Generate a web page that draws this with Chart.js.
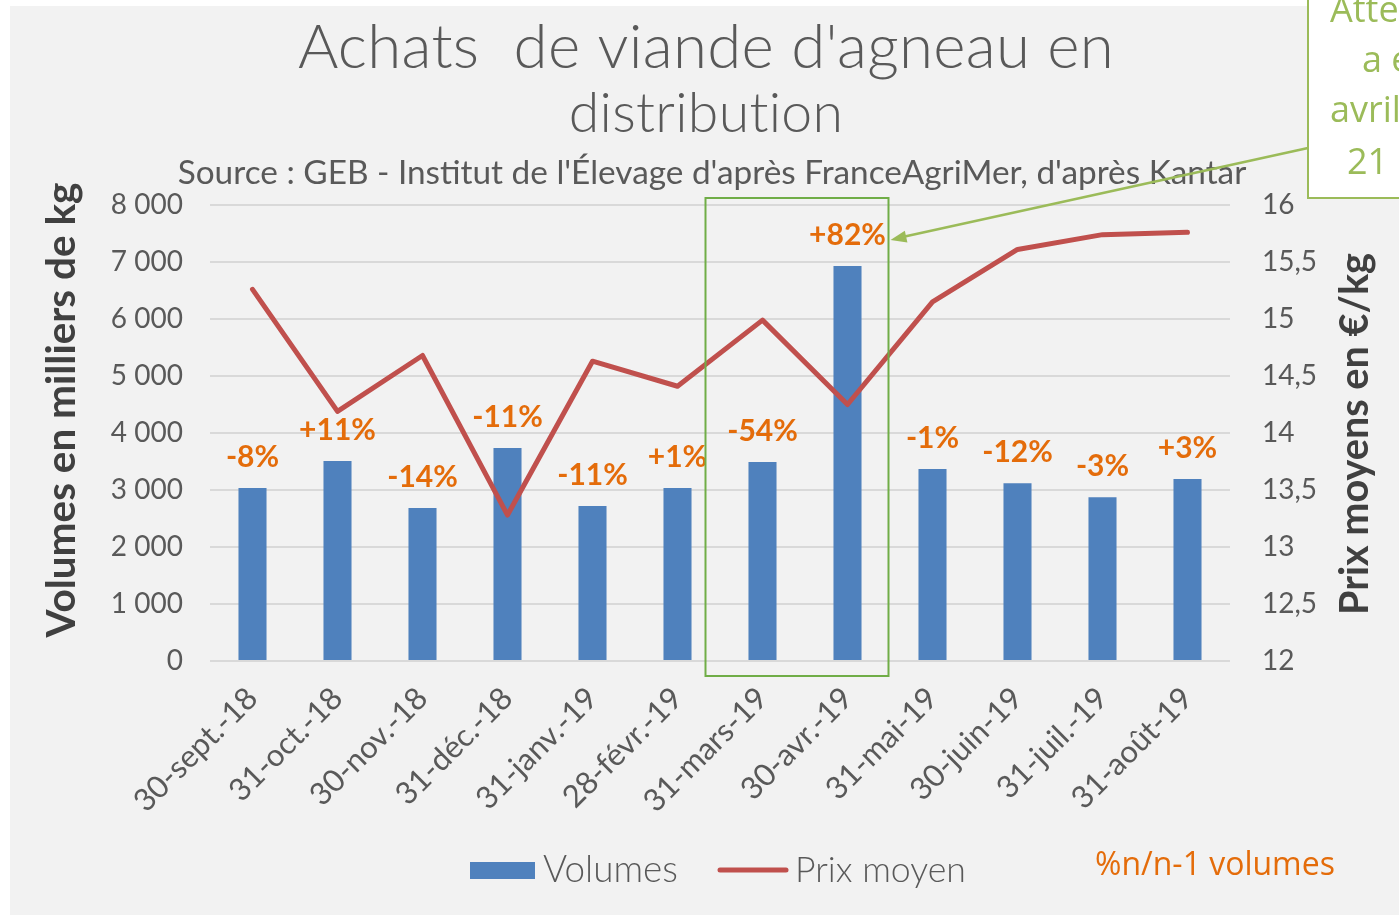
<!DOCTYPE html>
<html lang="fr">
<head>
  <meta charset="UTF-8">
  <title>Achats de viande d'agneau en distribution</title>
  <script src="https://cdn.jsdelivr.net/npm/chart.js"></script>
  <style>
    html, body { margin: 0; padding: 0; background: #fff; }
    .wrap { position: relative; width: 1399px; height: 915px; }
  </style>
</head>
<body>
  <div class="wrap"><canvas id="chart" width="1399" height="915"></canvas></div>

  <script>
    // Data
    const categories = ['30-sept.-18', '31-oct.-18', '30-nov.-18', '31-déc.-18', '31-janv.-19', '28-févr.-19',
                        '31-mars-19', '30-avr.-19', '31-mai-19', '30-juin-19', '31-juil.-19', '31-août-19'];
    const volumes = [3035, 3510, 2685, 3735, 2720, 3035, 3490, 6930, 3370, 3120, 2875, 3195];
    const prixMoyen = [15.26, 14.19, 14.68, 13.28, 14.63, 14.41, 14.99, 14.25, 15.15, 15.61, 15.74, 15.76];
    const evolVolumes = ['-8%', '+11%', '-14%', '-11%', '-11%', '+1%', '-54%', '+82%', '-1%', '-12%', '-3%', '+3%'];
    const volumeAxis = { min: 0, max: 8000, step: 1000 };
    const prixAxis = { min: 12, max: 16, step: 0.5 };

    const FONT = 'Lato, "Open Sans", sans-serif';
    const GREY = '#595959';
    const ORANGE = '#e46c0a';
    const GREEN = '#9bbb59';

    // font size that makes text fill a given width
    function fitFont(ctx, text, weight, family, width) {
      ctx.font = `${weight} 100px ${family}`;
      const size = 100 * width / ctx.measureText(text).width;
      ctx.font = `${weight} ${size}px ${family}`;
      return size;
    }

    const background = {
      id: 'background',
      beforeDraw(chart) {
        const ctx = chart.ctx;
        ctx.save();
        ctx.fillStyle = '#f2f2f2';
        ctx.fillRect(10, 6, chart.width - 10, chart.height - 6);
        ctx.restore();
      }
    };

    const barLabels = {
      id: 'barLabels',
      afterDatasetsDraw(chart) {
        const ctx = chart.ctx;
        const meta = chart.getDatasetMeta(0);
        ctx.save();
        ctx.font = `bold 30px ${FONT}`;
        ctx.fillStyle = ORANGE;
        ctx.textAlign = 'center';
        ctx.textBaseline = 'middle';
        meta.data.forEach((bar, i) => ctx.fillText(evolVolumes[i], bar.x, bar.y - 31));
        ctx.restore();
      }
    };

    const decorations = {
      id: 'decorations',
      afterDraw(chart) {
        const ctx = chart.ctx;
        const x = chart.scales.x;
        const area = chart.chartArea;
        ctx.save();

        // titles (a tiny letter spacing keeps "ti" from becoming a ligature)
        ctx.letterSpacing = '0.3px';
        ctx.fillStyle = GREY;
        ctx.textAlign = 'center';
        ctx.textBaseline = 'alphabetic';
        fitFont(ctx, "Achats  de viande d'agneau en", 300, FONT, 813);
        ctx.fillText("Achats  de viande d'agneau en", 706, 68);
        fitFont(ctx, 'distribution', 300, FONT, 273);
        ctx.fillText('distribution', 706, 132);
        ctx.letterSpacing = '0px';
        fitFont(ctx, "Source : GEB - Institut de l'Élevage d'après FranceAgriMer, d'après Kantar", 400, FONT, 1069);
        ctx.fillText("Source : GEB - Institut de l'Élevage d'après FranceAgriMer, d'après Kantar", 712, 184);

        // axis titles
        ctx.fillStyle = '#404040';
        ctx.textBaseline = 'middle';
        ctx.save();
        ctx.translate(62, 410);
        ctx.rotate(-Math.PI / 2);
        fitFont(ctx, 'Volumes en milliers de kg', 'bold', FONT, 455);
        ctx.fillText('Volumes en milliers de kg', 0, 0);
        ctx.restore();
        ctx.save();
        ctx.translate(1355, 434);
        ctx.rotate(-Math.PI / 2);
        fitFont(ctx, 'Prix moyens en €/kg', 'bold', FONT, 362);
        ctx.fillText('Prix moyens en €/kg', 0, 0);
        ctx.restore();

        // highlight box around mars/avril
        ctx.strokeStyle = '#70ad47';
        ctx.lineWidth = 2;
        const bx1 = x.getPixelForValue(6) - 57;
        const bx2 = x.getPixelForValue(7) + 41;
        ctx.strokeRect(bx1, area.top - 7, bx2 - bx1, area.bottom - area.top + 22);

        // arrow from the note to the +82% label
        const tipX = bx2 + 2, tipY = 240;
        ctx.strokeStyle = GREEN;
        ctx.fillStyle = GREEN;
        ctx.lineWidth = 2.5;
        ctx.beginPath();
        ctx.moveTo(1308, 148);
        ctx.lineTo(tipX + 12, tipY - 3);
        ctx.stroke();
        const ang = Math.atan2(148 - tipY, 1308 - tipX);
        ctx.beginPath();
        ctx.moveTo(tipX, tipY);
        ctx.lineTo(tipX + 16 * Math.cos(ang) - 6 * Math.sin(ang), tipY + 16 * Math.sin(ang) + 6 * Math.cos(ang));
        ctx.lineTo(tipX + 16 * Math.cos(ang) + 6 * Math.sin(ang), tipY + 16 * Math.sin(ang) - 6 * Math.cos(ang));
        ctx.closePath();
        ctx.fill();

        // note box (cut by the page edge)
        ctx.fillStyle = '#fff';
        ctx.fillRect(1308, -5, 100, 203);
        ctx.lineWidth = 2;
        ctx.strokeRect(1308, -5, 100, 203);
        ctx.fillStyle = GREEN;
        ctx.textAlign = 'left';
        ctx.textBaseline = 'alphabetic';
        ctx.font = `36px "Open Sans", sans-serif`;
        ctx.fillText('Atte', 1330, 22);
        ctx.fillText('a e', 1362, 72);
        ctx.fillText('avril', 1330, 122);
        ctx.fillText('21', 1347, 174);

        // legend
        ctx.fillStyle = '#4f81bd';
        ctx.fillRect(470, 862, 65, 17);
        ctx.strokeStyle = '#c0504d';
        ctx.lineWidth = 5;
        ctx.lineCap = 'round';
        ctx.beginPath();
        ctx.moveTo(720, 870);
        ctx.lineTo(786, 870);
        ctx.stroke();
        ctx.fillStyle = GREY;
        ctx.textBaseline = 'middle';
        fitFont(ctx, 'Volumes', 300, FONT, 135);
        ctx.fillText('Volumes', 543, 870);
        fitFont(ctx, 'Prix moyen', 300, FONT, 171);
        ctx.fillText('Prix moyen', 795, 870);
        ctx.fillStyle = ORANGE;
        fitFont(ctx, '%n/n-1 volumes', 400, '"Open Sans", sans-serif', 240);
        ctx.fillText('%n/n-1 volumes', 1095, 866);

        ctx.restore();
      }
    };

    new Chart(document.getElementById('chart'), {
      data: {
        labels: categories,
        datasets: [
          {
            type: 'bar', label: 'Volumes', data: volumes, yAxisID: 'y',
            backgroundColor: '#4f81bd', categoryPercentage: 1, barPercentage: 0.33, order: 1
          },
          {
            type: 'line', label: 'Prix moyen', data: prixMoyen, yAxisID: 'y1',
            borderColor: '#c0504d', borderWidth: 5, pointRadius: 0, tension: 0,
            borderJoinStyle: 'round', borderCapStyle: 'round', order: 0
          }
        ]
      },
      options: {
        responsive: false,
        animation: false,
        layout: { padding: { top: 205, left: 0, right: 0, bottom: 0 } },
        plugins: { legend: { display: false }, title: { display: false }, tooltip: { enabled: false } },
        scales: {
          x: {
            grid: { display: false, drawTicks: false },
            border: { display: false },
            ticks: { color: GREY, font: { family: FONT, size: 31 }, minRotation: 45, maxRotation: 45, autoSkip: false, padding: 19 },
            afterFit: s => { s.height = 254; }
          },
          y: {
            position: 'left', min: volumeAxis.min, max: volumeAxis.max,
            grid: { color: '#d9d9d9', lineWidth: 2, drawTicks: false },
            border: { display: false },
            ticks: {
              stepSize: volumeAxis.step, color: GREY, font: { family: FONT, size: 28 }, padding: 27,
              callback: v => v.toLocaleString('fr-FR').replace(/\s/g, ' ')
            },
            afterFit: s => { s.width = 210; }
          },
          y1: {
            position: 'right', min: prixAxis.min, max: prixAxis.max,
            grid: { display: false, drawTicks: false },
            border: { display: false },
            ticks: {
              stepSize: prixAxis.step, color: GREY, font: { family: FONT, size: 28 }, padding: 32,
              callback: v => String(v).replace('.', ',')
            },
            afterFit: s => { s.width = 169; }
          }
        }
      },
      plugins: [background, barLabels, decorations]
    });
  </script>
</body>
</html>
